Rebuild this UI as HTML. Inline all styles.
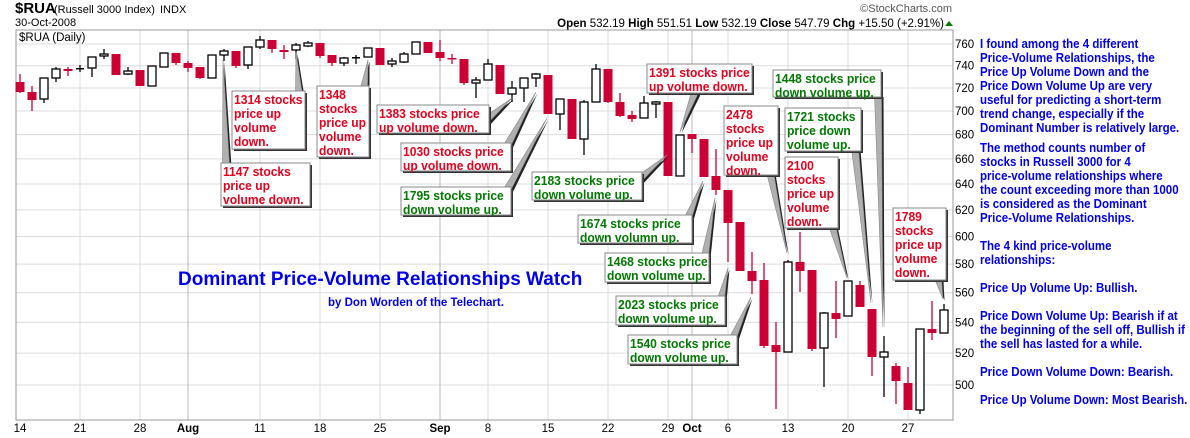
<!DOCTYPE html>
<html><head><meta charset="utf-8"><style>
body{margin:0;background:#fff;width:1190px;height:438px;overflow:hidden}
svg{display:block;font-family:"Liberation Sans",Arial,sans-serif}
.bx{font-weight:bold;font-size:13px}
.r{fill:#e8001c}.g{fill:#007a00}
.rt{font-weight:bold;font-size:12.5px;fill:#0000ee}
</style></head><body>
<svg id="s" width="1190" height="438" xmlns="http://www.w3.org/2000/svg">
<rect x="0" y="0" width="1190" height="438" fill="#fff"/>
<g id="grid"></g>
<rect x="16" y="30" width="937" height="390" fill="none" stroke="#999" stroke-width="1"/>
<g id="candles"></g>
<g id="ptr"></g>
<text x="15" y="13" font-size="15" font-weight="bold">$RUA</text>
<text x="54" y="13" font-size="11">(Russell 3000 Index)</text>
<text x="160" y="13" font-size="11">INDX</text>
<text x="15" y="26" font-size="11">30-Oct-2008</text>
<text x="952" y="12" font-size="11" fill="#555" text-anchor="end">©StockCharts.com</text>
<text x="944" y="27" font-size="11.5" text-anchor="end"><tspan font-weight="bold">Open</tspan> 532.19 <tspan font-weight="bold">High</tspan> 551.51 <tspan font-weight="bold">Low</tspan> 532.19 <tspan font-weight="bold">Close</tspan> 547.79 <tspan font-weight="bold">Chg</tspan> +15.50 (+2.91%)</text>
<polygon points="945,26 953,26 949,21" fill="#008000"/>
<text x="19" y="41" font-size="11.5">$RUA (Daily)</text>
<g id="ylab" font-size="11.5"></g>
<g id="xlab" font-size="11.5"></g>
<g id="boxes"></g>
<text x="178" y="285" font-size="19" font-weight="bold" fill="#0000ee">Dominant Price-Volume Relationships Watch</text>
<text x="328" y="306" font-size="11.5" font-weight="bold" fill="#0000ee">by Don Worden of the Telechart.</text>
<g class="rt" transform="translate(980,0) scale(0.92,1)">
<text x="0" y="48">I found among the 4 different</text>
<text x="0" y="62">Price-Volume Relationships, the</text>
<text x="0" y="76">Price Up Volume Down and the</text>
<text x="0" y="90">Price Down Volume Up are very</text>
<text x="0" y="104">useful for predicting a short-term</text>
<text x="0" y="118">trend change, especially if the</text>
<text x="0" y="132">Dominant Number is relatively large.</text>
<text x="0" y="152">The method counts number of</text>
<text x="0" y="166">stocks in Russell 3000 for 4</text>
<text x="0" y="180">price-volume relationships where</text>
<text x="0" y="194">the count exceeding more than 1000</text>
<text x="0" y="208">is considered as the Dominant</text>
<text x="0" y="222">Price-Volume Relationships.</text>
<text x="0" y="250">The 4 kind price-volume</text>
<text x="0" y="264">relationships:</text>
<text x="0" y="292">Price Up Volume Up: Bullish.</text>
<text x="0" y="320">Price Down Volume Up: Bearish if at</text>
<text x="0" y="334">the beginning of the sell off, Bullish if</text>
<text x="0" y="348">the sell has lasted for a while.</text>
<text x="0" y="376">Price Down Volume Down: Bearish.</text>
<text x="0" y="404">Price Up Volume Down: Most Bearish.</text>
</g>
</svg>
<script>
var NS="http://www.w3.org/2000/svg";
function el(p,t,a,txt){var e=document.createElementNS(NS,t);for(var k in a)e.setAttribute(k,a[k]);if(txt!==undefined)e.textContent=txt;document.getElementById(p).appendChild(e);return e;}
function py(p){return 5446.2-814.4*Math.log(p);}
function cx(i){return 20+12*i;}
for(var p=500;p<=760;p+=20){var y=py(p);el("grid","line",{x1:16,x2:953,y1:y,y2:y,stroke:"#dcdcdc"});el("ylab","text",{x:955,y:y+4},String(p));}
var mon=[[0,"14"],[5,"21"],[10,"28"],[14,"Aug",1],[20,"11"],[25,"18"],[30,"25"],[35,"Sep",1],[39,"8"],[44,"15"],[49,"22"],[54,"29"],[56,"Oct",1],[59,"6"],[64,"13"],[69,"20"],[74,"27"]];
mon.forEach(function(m){var x=cx(m[0]);if(m[0]>0)el("grid","line",{x1:x,x2:x,y1:30,y2:420,stroke:m[2]?"#b8b8b8":"#dcdcdc"});var t=el("xlab","text",{x:x,y:432,"text-anchor":"middle"},m[1]);if(m[2])t.setAttribute("font-weight","bold");});
var D=[[82,92,74,93,'r'],[92,100,86,111,'r'],[78,99,78,103,'w'],[69,78,67,82,'w'],[69,71,67,76,'r'],[68,70,65,72,'k'],[57,68,57,77,'w'],[54,56,49,59,'w'],[54,75,54,75,'r'],[71,74,67,75,'w'],[70,86,70,86,'r'],[66,86,66,86,'w'],[53,67,53,67,'w'],[53,63,53,65,'r'],[63,68,61,72,'r'],[67,78,67,79,'r'],[55,78,55,78,'w'],[51,55,49,61,'w'],[51,66,51,68,'r'],[47,65,47,69,'w'],[40,47,36,49,'w'],[40,49,40,53,'r'],[50,52,45,59,'r'],[45,50,43,59,'w'],[43,46,41,47,'w'],[43,56,43,58,'r'],[55,63,55,66,'r'],[58,63,57,66,'w'],[57,59,55,64,'k'],[48,57,48,57,'w'],[48,65,48,65,'r'],[61,64,58,67,'w'],[54,62,52,63,'w'],[42,54,42,54,'w'],[42,53,42,53,'r'],[52,58,40,61,'r'],[58,59,54,64,'r'],[59,83,59,85,'r'],[80,83,77,98,'w'],[64,80,59,80,'w'],[65,94,65,94,'r'],[88,94,81,102,'w'],[78,88,78,102,'w'],[74,78,73,87,'w'],[75,114,75,114,'r'],[99,114,99,130,'w'],[99,139,99,139,'r'],[102,139,100,155,'w'],[69,102,64,102,'w'],[69,102,69,103,'r'],[102,116,93,117,'r'],[115,119,111,122,'r'],[103,118,96,118,'w'],[102,104,101,118,'w'],[102,176,102,176,'r'],[135,176,135,176,'w'],[134,139,134,153,'r'],[139,177,139,177,'r'],[176,190,149,195,'r'],[190,223,190,262,'r'],[222,271,222,271,'r'],[271,281,252,294,'r'],[280,346,263,348,'r'],[345,352,322,409,'r'],[262,352,260,352,'w'],[262,271,232,292,'r'],[270,349,270,351,'r'],[313,348,312,387,'w'],[313,319,281,338,'r'],[281,316,281,316,'w'],[285,307,281,307,'r'],[309,357,309,376,'r'],[352,357,336,397,'w'],[366,381,363,404,'r'],[383,410,367,410,'r'],[329,410,329,414,'w'],[329,333,301,340,'r'],[310,333,304,333,'w']];
D.forEach(function(d,i){var x=cx(i);var red=d[4]=='r';var c=red?"#cc0033":"#000";
el("candles","line",{x1:x,x2:x,y1:d[2],y2:d[3],stroke:c,"stroke-width":1.3});
var h=Math.max(d[1]-d[0],1.5);
if(d[4]=='k'){el("candles","rect",{x:x-4,y:d[0],width:8,height:1.5,fill:"#000"});}
else if(red){el("candles","rect",{x:x-4.5,y:d[0],width:9,height:h,fill:"#cc0033"});}
else{el("candles","rect",{x:x-4,y:d[0],width:8,height:h,fill:"#fff",stroke:"#000","stroke-width":1.3});}
});
function ptr(bx,by,tx,ty){var dx=tx-bx,dy=ty-by,L=Math.sqrt(dx*dx+dy*dy),nx=-dy/L*3.5,ny=dx/L*3.5;
el("ptr","polygon",{points:(bx+nx+2)+","+(by+ny+2)+" "+(bx-nx+2)+","+(by-ny+2)+" "+(tx+1.5)+","+(ty+1.5),fill:"#222"});
el("ptr","polygon",{points:(bx+nx)+","+(by+ny)+" "+(bx-nx)+","+(by-ny)+" "+tx+","+ty,fill:"#b0b0b0",stroke:"#888","stroke-width":0.6});}
ptr(299,95,296,52);ptr(226,165,223,60);ptr(364,88,368,60);ptr(486,120,512,98);
ptr(507,146,536,92);ptr(507,190,547,118);ptr(638,180,667,155);ptr(695,92,680,132);
ptr(688,218,703,181);ptr(705,256,715,198);ptr(721,299,728,268);ptr(733,338,751,297);
ptr(770,172,787,253);ptr(832,225,847,278);ptr(878,95,883,327);ptr(855,148,871,303);ptr(938,278,943,299);
var B=[[232,91,73,58,'r',["1314 stocks","price up","volume","down."]],
[221,163,89,43,'r',["1147 stocks","price up","volume down."]],
[317,86,52,71,'r',["1348","stocks","price up","volume","down."]],
[377,105,112,28,'r',["1383 stocks price","up volume down."]],
[401,143,110,28,'r',["1030 stocks price","up volume down."]],
[401,187,110,28,'g',["1795 stocks price","down volume up."]],
[532,172,110,28,'g',["2183 stocks price","down volume up."]],
[647,64,105,29,'r',["1391 stocks price","up volume down."]],
[578,215,114,28,'g',["1674 stocks price","down volumn up."]],
[605,253,104,29,'g',["1468 stocks price","down volume up."]],
[616,296,109,29,'g',["2023 stocks price","down volume up."]],
[628,335,109,29,'g',["1540 stocks price","down volume up."]],
[724,106,54,69,'r',["2478","stocks","price up","volume","down."]],
[785,157,53,71,'r',["2100","stocks","price up","volume","down."]],
[773,70,108,27,'g',["1448 stocks price","down volume up."]],
[785,108,76,43,'g',["1721 stocks","price down","volume up."]],
[893,208,53,72,'r',["1789","stocks","price up","volume","down."]]];
B.forEach(function(b){el("boxes","rect",{x:b[0]+2,y:b[1]+2,width:b[2],height:b[3],fill:"#333"});
el("boxes","rect",{x:b[0],y:b[1],width:b[2],height:b[3],fill:"#fff",stroke:"#888","stroke-width":1});
b[5].forEach(function(t,j){el("boxes","text",{x:0,y:0,transform:"translate("+(b[0]+2)+","+(b[1]+13+j*14)+") scale(0.93,1)","class":"bx "+b[4]},t);});});
</script>
</body></html>
